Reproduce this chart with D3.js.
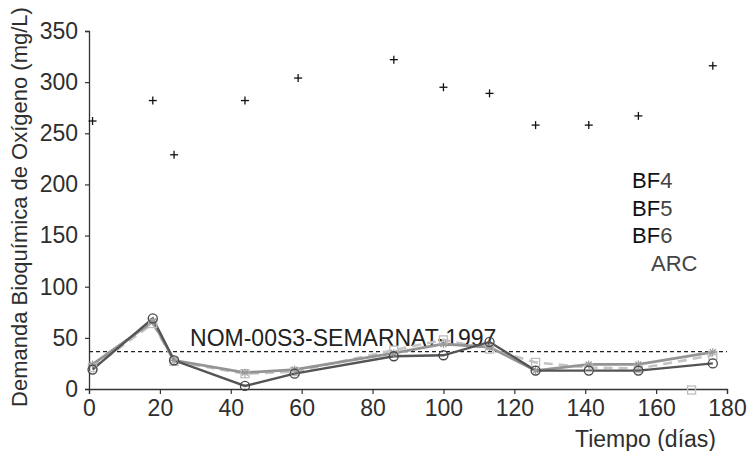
<!DOCTYPE html>
<html>
<head>
<meta charset="utf-8">
<script src="https://cdn.jsdelivr.net/npm/d3@7"></script>
<style>
  html, body { margin: 0; padding: 0; background: #fff; }
  svg { display: block; }
  text { font-family: "Liberation Sans", Arial, Helvetica, sans-serif; }
</style>
</head>
<body>
<svg id="chart" width="748" height="451"></svg>
<script>
// Días de muestreo
const dias = [1, 18, 24, 44, 58, 86, 100, 113, 126, 141, 155, 176];

// DBO5 (mg/L) por biofiltro
const bf4 = [19, 69, 28, 3, 15, 32, 33, 46, 18, 18, 18, 25];
const bf5 = [24, 66, 28, 16, 19, 35, 44, 41, 18, 24, 24, 36];
const bf6 = [21, 64, 27, 15, 17, 38, 48, 39, 26, 21, 20, 33];
const bf6AisladoDia = [170];
const bf6AisladoValor = [-1];

// Agua residual cruda (ARC)
const arcDias = [1, 18, 24, 44, 59, 86, 100, 113, 126, 141, 155, 176];
const arc = [262, 282, 229, 282, 304, 322, 295, 289, 258, 258, 267, 316];

// Límite de la norma
const limiteNOM = 36.5;
const etiquetaNOM = "NOM-00S3-SEMARNAT-1997";

const xTicks = [0, 20, 40, 60, 80, 100, 120, 140, 160, 180];
const yTicks = [0, 50, 100, 150, 200, 250, 300, 350];
const leyenda = [
  { pre: "BF", num: "4" },
  { pre: "BF", num: "5" },
  { pre: "BF", num: "6" },
  { pre: "", num: "ARC" }
];

const svg = d3.select("#chart");
const x = d3.scaleLinear().domain([0, 180]).range([89, 727]);
const y = d3.scaleLinear().domain([0, 350]).range([389, 31]);

const axisColor = "#333";
const textColor = "#2e2e2e";
const fontSize = 23;

// Eje Y
const yAxis = svg.append("g")
  .attr("transform", `translate(${x(0)},0)`)
  .call(d3.axisLeft(y).tickValues(yTicks).tickSize(4).tickPadding(7).tickFormat(d3.format("d")));
yAxis.select(".domain").attr("stroke", axisColor).attr("stroke-width", 1.3);
yAxis.selectAll(".tick line").attr("stroke", axisColor).attr("stroke-width", 1.2);
yAxis.selectAll(".tick text")
  .attr("font-size", fontSize).attr("fill", textColor)
  .attr("font-family", "'Liberation Sans', Arial, sans-serif");

// Eje X
const xAxis = svg.append("g")
  .attr("transform", `translate(0,${y(0)})`)
  .call(d3.axisBottom(x).tickValues(xTicks).tickSize(5).tickPadding(6).tickFormat(d3.format("d")));
xAxis.select(".domain").attr("stroke", axisColor).attr("stroke-width", 1.3);
xAxis.selectAll(".tick line").attr("stroke", axisColor).attr("stroke-width", 1.2);
xAxis.selectAll(".tick text")
  .attr("font-size", fontSize).attr("fill", textColor)
  .attr("font-family", "'Liberation Sans', Arial, sans-serif");

// Títulos de ejes
svg.append("text")
  .attr("transform", "translate(27,207) rotate(-90)")
  .attr("text-anchor", "middle")
  .attr("font-size", 22).attr("fill", textColor)
  .text("Demanda Bioquímica de Oxígeno (mg/L)");

svg.append("text")
  .attr("x", 716).attr("y", 447)
  .attr("text-anchor", "end")
  .attr("font-size", fontSize).attr("fill", textColor)
  .text("Tiempo (días)");

// Línea de la norma
svg.append("line")
  .attr("x1", x(0)).attr("x2", x(180))
  .attr("y1", y(limiteNOM)).attr("y2", y(limiteNOM))
  .attr("stroke", "#222").attr("stroke-width", 1.2)
  .attr("stroke-dasharray", "4,3");

svg.append("text")
  .attr("x", x(28.5)).attr("y", y(limiteNOM) - 6)
  .attr("font-size", fontSize).attr("fill", "#222")
  .text(etiquetaNOM);

const line = d3.line().x(d => x(d[0])).y(d => y(d[1]));
const pares = vals => dias.map((d, i) => [d, vals[i]]);

// BF6: gris claro discontinuo con cuadros
svg.append("path")
  .datum(pares(bf6))
  .attr("d", line)
  .attr("fill", "none").attr("stroke", "#c4c4c4")
  .attr("stroke-width", 2.6).attr("stroke-dasharray", "9,6");

// BF5: gris medio con asteriscos
svg.append("path")
  .datum(pares(bf5))
  .attr("d", line)
  .attr("fill", "none").attr("stroke", "#949494").attr("stroke-width", 2.8);

// BF4: gris oscuro con círculos
svg.append("path")
  .datum(pares(bf4))
  .attr("d", line)
  .attr("fill", "none").attr("stroke", "#545454").attr("stroke-width", 2.3);

// Marcadores BF6
const cuadros = pares(bf6).concat(bf6AisladoDia.map((d, i) => [d, bf6AisladoValor[i]]));
svg.append("g").selectAll("rect")
  .data(cuadros).join("rect")
  .attr("x", d => x(d[0]) - 4).attr("y", d => y(d[1]) - 4)
  .attr("width", 8).attr("height", 8)
  .attr("fill", "none").attr("stroke", "#bdbdbd").attr("stroke-width", 1.3);

// Marcadores BF5 (asterisco)
const ast = svg.append("g").selectAll("g")
  .data(pares(bf5)).join("g")
  .attr("transform", d => `translate(${x(d[0])},${y(d[1])})`)
  .attr("stroke", "#9a9a9a").attr("stroke-width", 1.2);
ast.append("line").attr("x1", -4).attr("x2", 4).attr("y1", 0).attr("y2", 0);
ast.append("line").attr("x1", 0).attr("x2", 0).attr("y1", -4).attr("y2", 4);
ast.append("line").attr("x1", -3).attr("x2", 3).attr("y1", -3).attr("y2", 3);
ast.append("line").attr("x1", -3).attr("x2", 3).attr("y1", 3).attr("y2", -3);

// Marcadores BF4 (círculo)
svg.append("g").selectAll("circle")
  .data(pares(bf4)).join("circle")
  .attr("cx", d => x(d[0])).attr("cy", d => y(d[1])).attr("r", 4.5)
  .attr("fill", "none").attr("stroke", "#444").attr("stroke-width", 1.3);

// ARC: cruces negras
const cruz = svg.append("g").selectAll("g")
  .data(arcDias.map((d, i) => [d, arc[i]])).join("g")
  .attr("transform", d => `translate(${x(d[0])},${y(d[1])})`)
  .attr("stroke", "#111").attr("stroke-width", 1.3);
cruz.append("line").attr("x1", -4).attr("x2", 4).attr("y1", 0).attr("y2", 0);
cruz.append("line").attr("x1", 0).attr("x2", 0).attr("y1", -4).attr("y2", 4);

// Leyenda
const ley = svg.append("g");
leyenda.forEach((item, i) => {
  const t = ley.append("text")
    .attr("x", item.pre ? 632 : 651)
    .attr("y", 188 + i * 27.5)
    .attr("font-size", 22);
  if (item.pre) t.append("tspan").attr("fill", "#111").text(item.pre);
  t.append("tspan").attr("fill", "#444").text(item.num);
});
</script>
</body>
</html>
